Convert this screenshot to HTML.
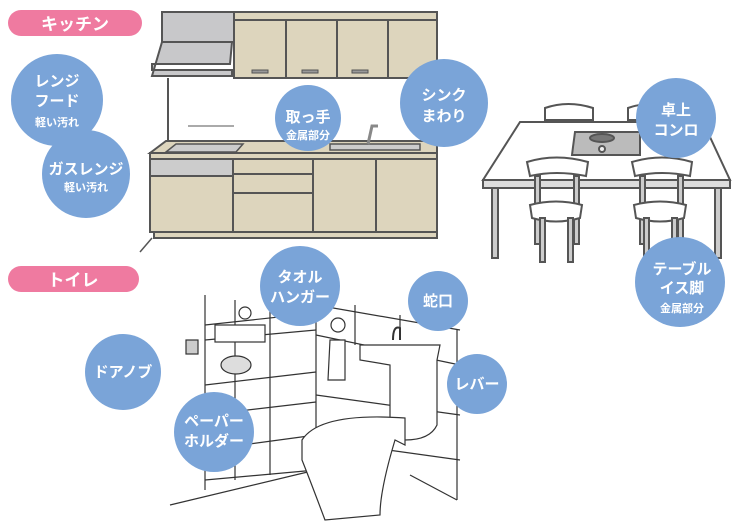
<!DOCTYPE html>
<html><head><meta charset="utf-8"><style>
body{margin:0;background:#fff}
svg text{font-family:"Liberation Sans","Noto Sans CJK JP",sans-serif;fill:#fff;font-weight:bold;text-anchor:middle}
</style></head><body>
<svg width="740" height="527" viewBox="0 0 740 527" xmlns="http://www.w3.org/2000/svg">
<g stroke="#555" stroke-width="2" fill="#ddd5bd">
 <rect x="162" y="12" width="72" height="30" fill="#c8c8ca"/>
 <path d="M162 42 L232 42 L230 64 L152 64 L152 70 L232 70 L232 76 L152 76 Z" fill="#c8c8ca"/>
 <rect x="234" y="12" width="203" height="66"/>
 <line x1="286" y1="20" x2="286" y2="78"/><line x1="337" y1="20" x2="337" y2="78"/><line x1="388" y1="20" x2="388" y2="78"/>
 <line x1="234" y1="20" x2="437" y2="20"/>
 <rect x="252" y="70" width="16" height="3" fill="#999" stroke-width="1"/><rect x="302" y="70" width="16" height="3" fill="#999" stroke-width="1"/><rect x="352" y="70" width="16" height="3" fill="#999" stroke-width="1"/>
 <line x1="168" y1="78" x2="168" y2="141" fill="none"/>
 <line x1="437" y1="12" x2="437" y2="237"/>
 <path d="M150 153 L166 141 L437 141 L437 153 Z"/>
 <rect x="150" y="153" width="287" height="6"/>
 <rect x="150" y="159" width="287" height="73"/>
 <rect x="150" y="159" width="83" height="17" fill="#ccc"/>
 <line x1="233" y1="159" x2="233" y2="232"/><line x1="313" y1="159" x2="313" y2="232"/><line x1="376" y1="159" x2="376" y2="232"/>
 <line x1="233" y1="174" x2="313" y2="174"/><line x1="233" y1="193" x2="313" y2="193"/>
 <rect x="154" y="232" width="283" height="6"/>
 <path d="M166 152 L176 144 L243 144 L236 152 Z" fill="#ccc" stroke-width="1.5"/>
 <rect x="330" y="144" width="90" height="6" fill="#ccc" stroke-width="1.5"/>
 <path d="M368 144 L372 126 L378 126" fill="none" stroke="#888" stroke-width="3"/>
 <line x1="188" y1="126" x2="234" y2="126" stroke-width="1"/>
 <line x1="152" y1="238" x2="140" y2="252" stroke-width="1.5"/>
</g>
<g stroke="#555" stroke-width="2" fill="#fff">
 <path d="M545 120 L545 108 Q568 100 593 108 L593 120 Z"/><path d="M628 120 L628 108 Q650 100 672 108 L672 120Z"/>
 <path d="M520 122 L703 122 L730 180 L483 180 Z"/>
 <rect x="483" y="180" width="247" height="8" fill="#ddd"/>
 <rect x="492" y="188" width="6" height="70" fill="#ccc"/>
 <rect x="715" y="188" width="6" height="70" fill="#ccc"/>
 <path d="M573 147 L575 132 L625 132 L640 132 L640 155 L572 155 Z" fill="#bbb"/>
 <ellipse cx="602" cy="138" rx="12" ry="4" fill="#777"/><circle cx="602" cy="149" r="3" fill="#eee"/>
 <path d="M527 162 Q556 153 588 162 L586 176 Q556 170 530 176 Z"/>
 <rect x="535" y="176" width="5" height="68" fill="#ccc"/><rect x="574" y="176" width="5" height="68" fill="#ccc"/>
 <path d="M530 205 Q556 198 582 205 L580 218 Q556 225 532 218 Z"/>
 <rect x="540" y="218" width="5" height="44" fill="#ccc"/><rect x="568" y="218" width="5" height="44" fill="#ccc"/>
 <path d="M632 162 Q662 153 692 162 L690 176 Q662 170 635 176 Z"/>
 <rect x="640" y="176" width="5" height="68" fill="#ccc"/><rect x="678" y="176" width="5" height="68" fill="#ccc"/>
 <path d="M634 205 Q660 198 686 205 L684 218 Q660 225 636 218 Z"/>
 <rect x="644" y="218" width="5" height="44" fill="#ccc"/><rect x="672" y="218" width="5" height="44" fill="#ccc"/>
</g>
<g stroke="#333" stroke-width="1.2" fill="none">
 <line x1="205" y1="295" x2="205" y2="490"/><line x1="316" y1="300" x2="316" y2="470"/>
 <line x1="205" y1="325" x2="316" y2="313"/><line x1="205" y1="340" x2="316" y2="330"/>
 <line x1="205" y1="385" x2="316" y2="372"/><line x1="205" y1="415" x2="316" y2="402"/>
 <line x1="205" y1="450" x2="316" y2="435"/><line x1="205" y1="480" x2="316" y2="470"/>
 <line x1="235" y1="300" x2="235" y2="480"/><line x1="270" y1="300" x2="270" y2="475"/>
 <line x1="316" y1="305" x2="460" y2="330"/><line x1="316" y1="335" x2="460" y2="365"/><line x1="316" y1="395" x2="460" y2="415"/>
 <line x1="316" y1="440" x2="460" y2="460"/><line x1="355" y1="305" x2="355" y2="345"/><line x1="400" y1="315" x2="400" y2="330"/>
 <line x1="457" y1="330" x2="457" y2="500"/><line x1="170" y1="505" x2="316" y2="470"/>
 <line x1="410" y1="475" x2="457" y2="500"/>
 <rect x="215" y="325" width="50" height="17" fill="#fff"/>
 <ellipse cx="236" cy="365" rx="15" ry="9" fill="#ddd"/>
 <rect x="186" y="340" width="12" height="14" fill="#ccc"/>
 <path d="M330 340 L345 340 L345 380 L328 380 Z" fill="#fff"/><circle cx="338" cy="325" r="7"/>
 <path d="M360 345 L440 345 L437 360 L437 425 Q430 440 405 440 L390 440 L390 365 L360 360 Z" fill="#fff"/>
 <path d="M302 440 Q320 412 405 418 L405 445 L395 440 Q380 490 380 515 L325 520 Q310 480 302 460 Z" fill="#fff"/>
 <path d="M393 340 Q393 325 400 328 L400 340" stroke-width="2"/>
 <circle cx="245" cy="313" r="6" fill="#fff"/>
</g>
<rect x="8" y="10" width="134" height="26" rx="13" fill="#ef7aa0"/>
<text x="75" y="30" font-size="17">キッチン</text>
<rect x="8" y="266" width="131" height="26" rx="13" fill="#ef7aa0"/>
<text x="73" y="286" font-size="17">トイレ</text>
<g fill="#7aa4d8">
 <circle cx="57" cy="100" r="46"/><circle cx="86" cy="174" r="44"/><circle cx="308" cy="118" r="33"/>
 <circle cx="444" cy="103" r="44"/><circle cx="676" cy="118" r="40"/><circle cx="680" cy="282" r="45"/>
 <circle cx="300" cy="286" r="40"/><circle cx="438" cy="301" r="30"/><circle cx="123" cy="372" r="38"/>
 <circle cx="477" cy="384" r="30"/><circle cx="214" cy="432" r="40"/>
</g>
<g font-size="15">
 <text x="57" y="86">レンジ</text><text x="57" y="106">フード</text><text x="57" y="126" font-size="11">軽い汚れ</text>
 <text x="86" y="174">ガスレンジ</text><text x="86" y="191" font-size="11">軽い汚れ</text>
 <text x="308" y="122">取っ手</text><text x="308" y="139" font-size="11">金属部分</text>
 <text x="444" y="100">シンク</text><text x="444" y="121">まわり</text>
 <text x="676" y="115">卓上</text><text x="676" y="135">コンロ</text>
 <text x="682" y="274">テーブル</text><text x="682" y="293">イス脚</text><text x="682" y="312" font-size="11">金属部分</text>
 <text x="300" y="282">タオル</text><text x="300" y="302">ハンガー</text>
 <text x="438" y="306">蛇口</text><text x="123" y="377">ドアノブ</text><text x="477" y="389">レバー</text>
 <text x="214" y="426">ペーパー</text><text x="214" y="446">ホルダー</text>
</g>
</svg>
</body></html>
